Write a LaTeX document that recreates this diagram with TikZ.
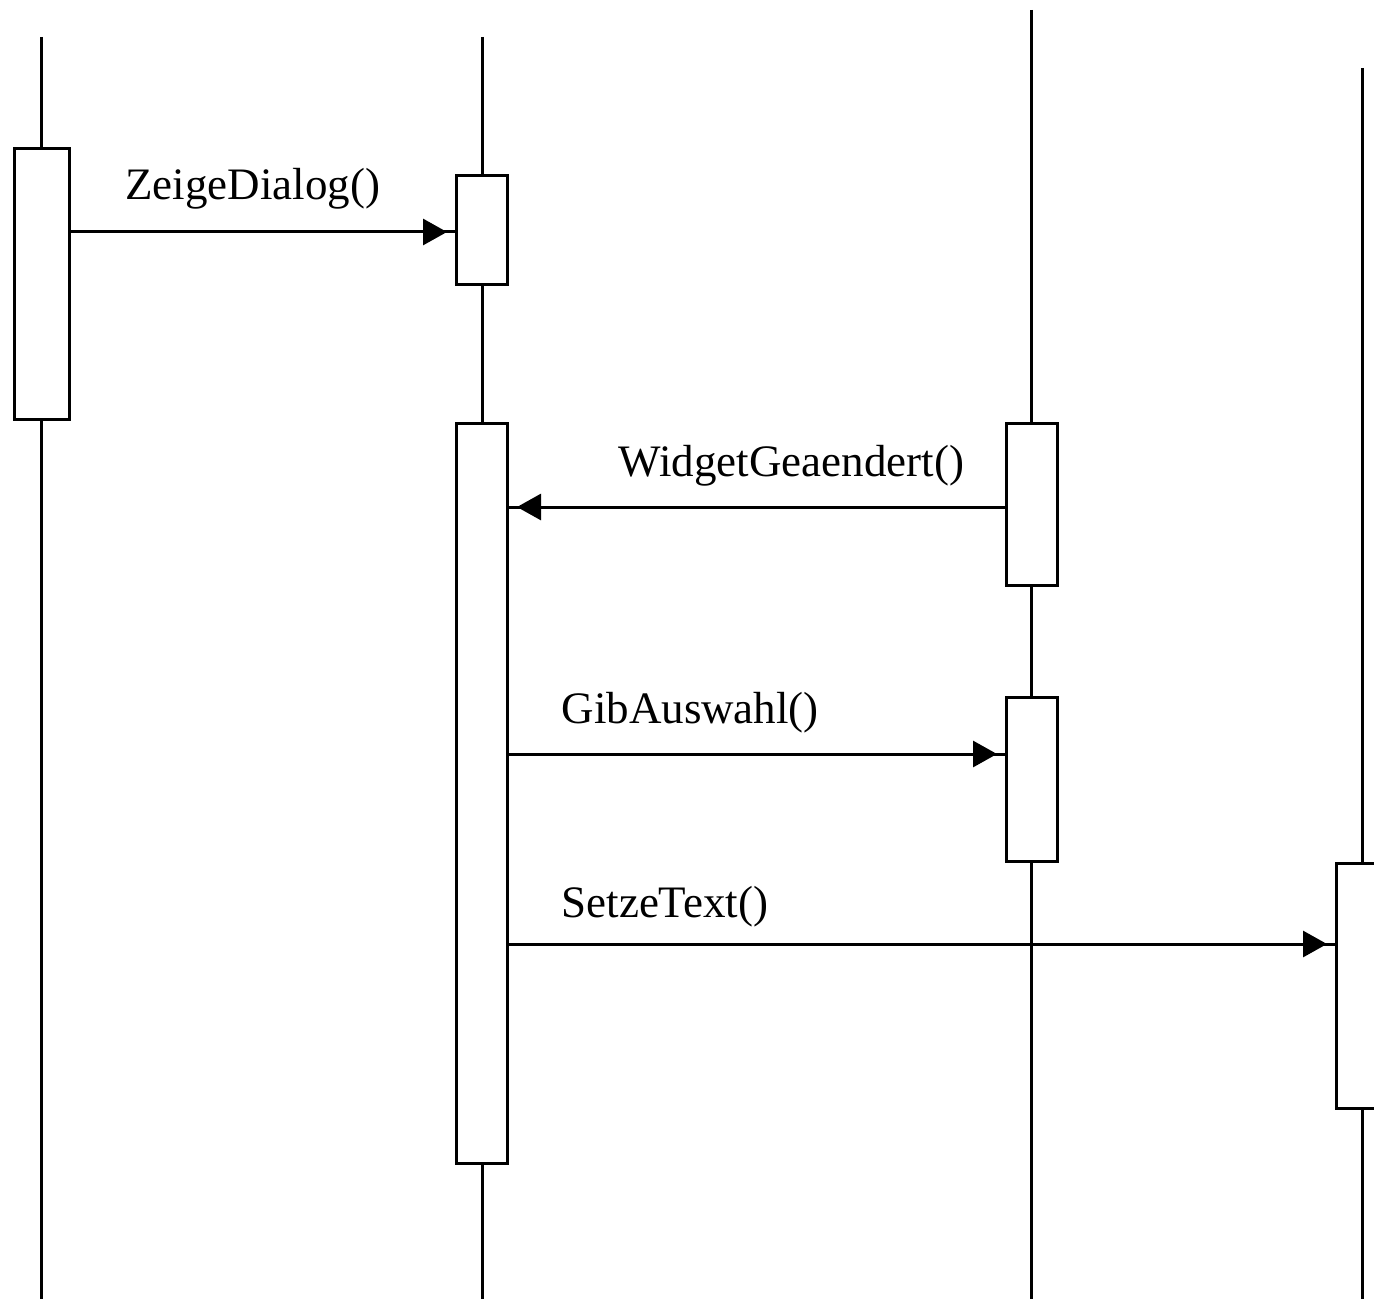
\documentclass[tikz,border=0pt]{standalone}
\usepackage{fontspec}
\setmainfont{Liberation Serif}
\usetikzlibrary{arrows.meta}
\begin{document}
\begin{tikzpicture}[x=0.5pt,y=-0.5pt,
  line width=1.5pt,
  lifeline/.style={draw=black},
  actbox/.style={draw=black,fill=white,rectangle,inner sep=0pt,anchor=north west},
  msg/.style={draw=black,-{Triangle[length=12pt,width=13pt] Rectangle[length=4pt,width=1.5pt,line width=0pt]}},
  msglabel/.style={anchor=base west,inner sep=0pt,font=\fontsize{22.5}{26}\selectfont}]
\clip (0,0) rectangle (1374,1299);
\fill[white] (0,0) rectangle (1374,1299);
% lifelines
\coordinate (l1t) at (41,37);   \coordinate (l1b) at (41,1299);
\coordinate (l2t) at (482,37);  \coordinate (l2b) at (482,1299);
\coordinate (l3t) at (1031,10); \coordinate (l3b) at (1031,1299);
\coordinate (l4t) at (1362,68); \coordinate (l4b) at (1362,1299);
\draw[lifeline] (l1t) -- (l1b);
\draw[lifeline] (l2t) -- (l2b);
\draw[lifeline] (l3t) -- (l3b);
\draw[lifeline] (l4t) -- (l4b);
% activation boxes
\node[actbox,minimum width=27.5pt,minimum height=135.5pt] (a1) at (13,147) {};
\node[actbox,minimum width=25.5pt,minimum height=54.5pt] (b1) at (455,174) {};
\node[actbox,minimum width=25.5pt,minimum height=370pt] (b2) at (455,422) {};
\node[actbox,minimum width=25.5pt,minimum height=81pt] (c1) at (1005,422) {};
\node[actbox,minimum width=25.5pt,minimum height=82pt] (c2) at (1005,696) {};
\node[actbox,minimum width=30pt,minimum height=122.5pt] (d1) at (1335,862) {};
% messages
\draw[msg] (a1.east |- 0,232) -- (b1.west |- 0,232);
\draw[msg] (c1.west |- 0,507) -- (b2.east |- 0,507);
\draw[msg] (b2.east |- 0,754) -- (c2.west |- 0,754);
\draw[msg] (b2.east |- 0,944) -- (d1.west |- 0,944);
% labels
\node[msglabel] (t1) at (124,200) {ZeigeDialog()};
\node[msglabel] (t2) at (617,476) {WidgetGeaendert()};
\node[msglabel] (t3) at (560,723) {GibAuswahl()};
\node[msglabel] (t4) at (560,917) {SetzeText()};
\end{tikzpicture}
\end{document}
